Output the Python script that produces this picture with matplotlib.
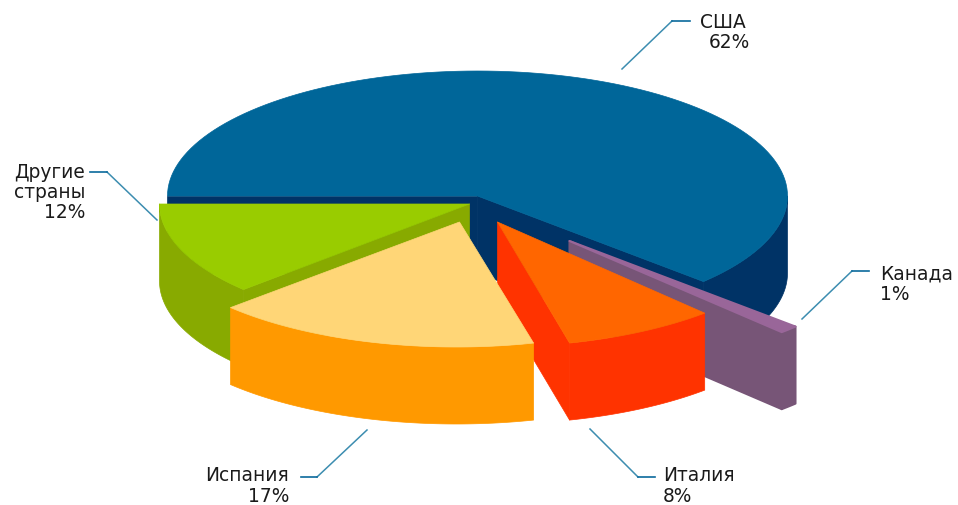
import numpy as np
import matplotlib.pyplot as plt

countries = ["США", "Канада", "Италия", "Испания", "Другие\nстраны"]
shares = [62, 1, 8, 17, 12]

top_colors = ["#006699", "#996699", "#FF6600", "#FFD677", "#99CC00"]
side_colors = ["#003366", "#775577", "#FF3300", "#FF9900", "#88AA00"]

# pie geometry, in pixels of the 958x506 picture
cx, cy = 477.5, 197
rx, ry = 310, 125
depth = 77
offsets = [(0, 0), (92, 45), (15, 26), (-21, 26), (-8, 8)]
apex_shift = [0, 0, 5, 3, 0]
draw_order = [0, 1, 4, 2, 3]

# text lines: x, y, align, one block per country
label_pos = [(746, 22, "right"), (880, 274, "left"), (663, 476, "left"),
             (289, 476, "right"), (85, 172, "right")]
pct_x = [750, 880, 663, 289, 85]
line_gap = 20.5

leaders = [
    ([622, 672, 690], [70, 22, 22]),
    ([802, 852, 869], [320, 272, 272]),
    ([590, 638, 655], [430, 478, 478]),
    ([367, 317, 301], [431, 478, 478]),
    ([157, 107, 90], [221, 173, 173]),
]

fig = plt.figure(figsize=(9.58, 5.06), dpi=100)
ax = fig.add_axes([0, 0, 1, 1])
ax.set_xlim(0, 958)
ax.set_ylim(506, 0)
ax.axis("off")


def rim(a1, a2, ox, oy):
    t = np.radians(np.linspace(a1, a2, 120))
    return cx + ox + rx * np.cos(t), cy + oy - ry * np.sin(t)


def cut_wall(angle, ox, oy, px, style):
    x1, y1 = rim(angle, angle, ox, oy)
    ax.fill([px, x1[0], x1[0], px],
            [cy + oy, y1[0], y1[0] + depth, cy + oy + depth], **style)


# slices go clockwise starting from the left edge of the ellipse
ends = 180 - np.cumsum(shares) * 3.6
starts = np.concatenate([[180], ends[:-1]])

for i in draw_order:
    a1, a2 = starts[i], ends[i]
    ox, oy = offsets[i]
    px = cx + ox + apex_shift[i]
    edge = 1.5 if countries[i] == "Канада" else 0.5
    side = dict(fc=side_colors[i], ec=side_colors[i], lw=edge, joinstyle="round")
    top = dict(fc=top_colors[i], ec=top_colors[i], lw=edge, joinstyle="round")

    # a cut is seen only if its face looks down towards the viewer
    if np.sin(np.radians(a1 + 90)) < -0.01:
        cut_wall(a1, ox, oy, px, side)
    if np.sin(np.radians(a2 - 90)) < -0.01:
        cut_wall(a2, ox, oy, px, side)

    # outer wall, only the part under the horizontal axis is seen
    xs, ys = rim(min(a1, 0), a2, ox, oy)
    ax.fill(np.concatenate([xs, xs[::-1]]),
            np.concatenate([ys, ys[::-1] + depth]), **side)

    xs, ys = rim(a1, a2, ox, oy)
    ax.fill(np.concatenate([[px], xs]), np.concatenate([[cy + oy], ys]), **top)

for xs, ys in leaders:
    ax.plot(xs[:2], ys[:2], color="#3C8DB0", lw=1.1)
    ax.plot(xs[1:], ys[1:], color="#0B6A9C", lw=1.2)

for name, share, (x, y, ha), px in zip(countries, shares, label_pos, pct_x):
    lines = name.split("\n")
    for n, line in enumerate(lines):
        ax.text(x, y + n * line_gap, line, ha=ha, va="center", fontsize=13.4,
                family="DejaVu Sans", color="#1A1A1A")
    ax.text(px, y + len(lines) * line_gap, f"{share}%", ha=ha, va="center", fontsize=13.4,
            family="DejaVu Sans", color="#1A1A1A")

fig.savefig("out.png", dpi=100)
